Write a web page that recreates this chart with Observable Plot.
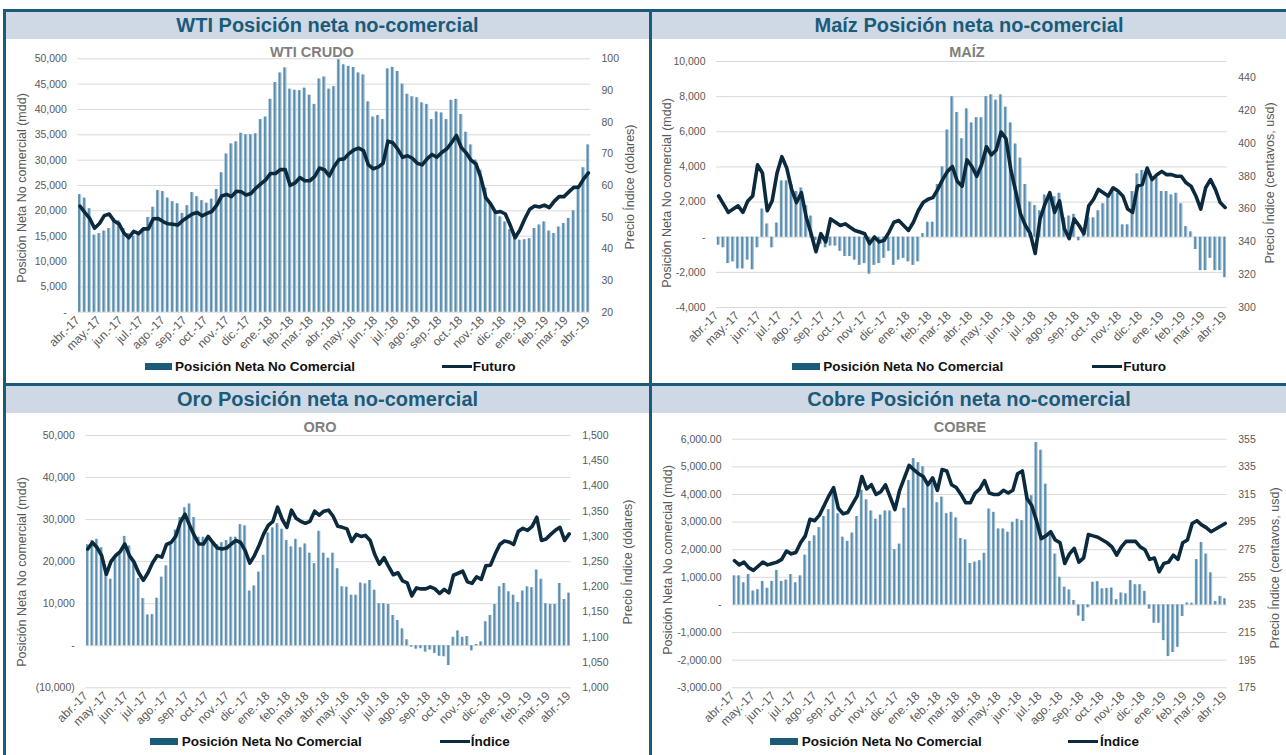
<!DOCTYPE html>
<html>
<head>
<meta charset="utf-8">
<script src="https://cdn.jsdelivr.net/npm/d3@7"></script>
<script src="https://cdn.jsdelivr.net/npm/@observablehq/plot@0.6"></script>
<style>
  html, body { margin: 0; padding: 0; background: #fff; }
  body { width: 1286px; height: 755px; position: relative; overflow: hidden; font-family: "Liberation Sans", Arial, sans-serif; }
  .line { position: absolute; background: #1b5b7a; }
  .tbar { position: absolute; background: #cfd9e5; display: flex; align-items: center; justify-content: center;
          color: #1b5b7a; font-weight: bold; font-size: 20px; white-space: nowrap; }
  .sub { position: absolute; transform: translateX(-50%); font-size: 14.5px; line-height: 14px; font-weight: bold; color: #7f7f7f; white-space: nowrap; }
  .atitle { position: absolute; transform: translate(-50%, -50%) rotate(-90deg); font-size: 12.5px; color: #595959; white-space: nowrap; }
  .leg { position: absolute; transform: translateY(-50%); font-size: 13.5px; line-height: 14px; font-weight: bold; color: #111; white-space: nowrap; }
  .sw { position: absolute; }
  svg { position: absolute; }
</style>
</head>
<body>
<script>
// ---------- DATA (weekly, starting Tue 4-Apr-2017) ----------
const firstWeek = "2017-04-04";
const monthNames = ["ene", "feb", "mar", "abr", "may", "jun", "jul", "ago", "sep", "oct", "nov", "dic"];

// WTI: net non-commercial position (mdd) and futures price (USD)
const wtiPos = [23200, 22500, 20400, 15200, 15500, 16000, 16500, 18500, 18000, 16500, 15500, 15000, 15300,
  16500, 18700, 20700, 24000, 23800, 22500, 21800, 21400, 19500, 21000, 23600, 22800, 22000,
  21500, 22300, 24200, 27500, 31200, 33200, 33600, 35300, 35000, 35000, 35200, 38000, 38500,
  42000, 45300, 47200, 48200, 44000, 43800, 43700, 44200, 42800, 41000, 46000, 46400, 44000,
  44500, 49800, 48800, 48500, 48300, 47200, 46800, 41500, 38500, 38800, 38000, 48000, 48300,
  47500, 45000, 43000, 42500, 42300, 41300, 41000, 38000, 39500, 39300, 38000, 41800, 42000,
  39000, 35500, 33000, 30000, 28000, 24500, 21500, 20000, 18800, 17800, 16300, 14500, 14200,
  14300, 14500, 16500, 17200, 17800, 16000, 15500, 16800, 17500, 18500, 20000, 25000, 28500, 33000];
const wtiFut = [53.5, 51.5, 49.6, 46.5, 48.0, 50.5, 51.0, 48.8, 47.9, 45.0, 43.5, 45.5, 44.8,
  46.3, 46.3, 49.5, 49.6, 48.6, 47.9, 47.8, 47.5, 48.9, 50.0, 51.0, 51.5, 50.4,
  51.2, 51.8, 53.8, 56.7, 57.2, 56.5, 58.2, 58.0, 57.0, 57.5, 59.2, 60.5, 61.8,
  63.8, 63.8, 65.0, 65.0, 60.0, 60.8, 62.5, 61.5, 61.5, 62.8, 65.5, 65.0, 63.0,
  66.0, 68.2, 68.4, 70.0, 71.2, 71.8, 71.0, 66.5, 65.3, 65.8, 67.0, 74.0, 73.5,
  71.5, 68.9, 69.4, 68.6, 67.0, 66.5, 68.4, 69.8, 68.9, 70.4, 71.5, 73.5, 75.8,
  72.0, 70.3, 68.0, 66.8, 62.5, 56.2, 54.2, 51.5, 51.8, 51.0, 47.5, 43.5, 46.0,
  49.5, 52.5, 53.5, 53.2, 53.8, 53.0, 55.0, 56.5, 56.5, 58.0, 59.4, 59.5, 62.0, 64.0];

// Maíz
const maizPos = [-450, -600, -1500, -1400, -1800, -1800, -1300, -1850, -600, 1600, 750, -600, 800,
  3200, 3200, 3000, 2600, 2800, 1800, 1200, -200, -400, -600, -500, -500, -800,
  -1100, -1100, -1300, -1600, -1500, -2100, -1600, -1500, -1200, -800, -1600, -1300, -1200,
  -1400, -1600, -1400, 200, 850, 850, 3000, 4000, 6100, 8000, 7100, 5600, 7300,
  6500, 6800, 6800, 8000, 8100, 7800, 8100, 7400, 6500, 5300, 4500, 3000, 2000,
  1800, 1500, 2400, 2200, 2300, 2500, 1100, 1200, 1300, -200, 200, 1100, 1100,
  1500, 1900, 2300, 2600, 2500, 700, 700, 2600, 3600, 3800, 3600, 3400, 3400,
  2600, 2600, 2400, 2500, 1900, 600, 300, -700, -1900, -1900, -1200, -1900, -1900, -2300];
const maizFut = [368, 363, 358, 360, 362, 358, 365, 368, 387, 382, 359, 365, 382,
  392, 385, 372, 364, 370, 355, 345, 334, 345, 340, 354, 352, 350,
  351, 349, 347, 346, 345, 339, 343, 340, 341, 346, 352, 353, 350,
  347, 352, 359, 364, 366, 367, 372, 378, 383, 386, 377, 374, 390,
  386, 380, 387, 398, 393, 396, 407, 403, 384, 371, 357, 350, 345,
  333, 354, 363, 370, 358, 365, 348, 342, 354, 350, 345, 362, 366,
  372, 370, 368, 373, 371, 368, 360, 358, 374, 375, 385, 378, 381,
  383, 381, 381, 380, 380, 376, 374, 368, 360, 373, 378, 372, 364, 361];

// Oro
const oroPos = [24000, 25000, 25300, 23300, 17500, 15800, 21000, 22000, 26000, 23700, 20000, 16000, 11200,
  7300, 7400, 11300, 16300, 19000, 24500, 27500, 30500, 32800, 33700, 30500, 25800, 25800,
  25500, 24500, 24000, 24500, 25000, 25800, 25800, 28800, 28500, 13000, 14200, 17500, 21500,
  26800, 28000, 29000, 27700, 25000, 23500, 25300, 23300, 24200, 22000, 19500, 27200, 22000,
  20800, 22000, 18300, 14000, 13900, 12000, 12000, 14900, 14700, 15500, 13200, 10000, 10000,
  9800, 7200, 6000, 4000, 1400, -300, -800, -700, -1500, -1000, -1800, -2500, -2600,
  -4700, 2000, 3500, 2000, 2200, -1200, 300, 900, 5700, 7200, 9800, 14000, 14800,
  12800, 12000, 10300, 13000, 14000, 13800, 18000, 15800, 10000, 9800, 9800, 14800, 11000, 12500];
const oroInd = [1275, 1288, 1278, 1262, 1225, 1250, 1262, 1270, 1285, 1262, 1249, 1228, 1213,
  1228, 1248, 1262, 1259, 1284, 1288, 1300, 1328, 1344, 1322, 1302, 1285, 1285,
  1300, 1288, 1277, 1275, 1277, 1285, 1292, 1288, 1272, 1247, 1262, 1282, 1305,
  1322, 1330, 1358, 1334, 1318, 1352, 1336, 1330, 1326, 1330, 1350, 1342, 1350,
  1352, 1340, 1320, 1318, 1315, 1290, 1304, 1300, 1302, 1292, 1264, 1245, 1258,
  1240, 1224, 1228, 1212, 1208, 1182, 1198, 1196, 1196, 1200, 1196, 1187, 1195,
  1188, 1223, 1227, 1231, 1210, 1207, 1220, 1215, 1242, 1243, 1265, 1284, 1291,
  1289, 1284, 1310, 1316, 1312, 1320, 1338, 1292, 1295, 1304, 1312, 1318, 1292, 1305];

// Cobre
const cobrePos = [1050, 1050, 800, 1100, 500, 550, 850, 600, 850, 1250, 850, 900, 1100,
  800, 1050, 1800, 2300, 2500, 2800, 3200, 3450, 4100, 3300, 2450, 2300, 2600,
  3200, 4150, 3800, 3400, 3100, 3250, 3400, 3400, 2000, 2200, 3500, 4500, 5300,
  5150, 5000, 4300, 4400, 3700, 3900, 3300, 3350, 3150, 2400, 2350, 1500, 1550,
  1600, 1870, 3470, 3350, 2750, 2750, 2630, 2990, 3100, 3050, 4010, 3950, 5880,
  5600, 4370, 2630, 1840, 1000, 640, 540, 160, -400, -600, -100, 820, 840,
  580, 600, 610, 190, 430, 400, 880, 730, 730, 490, -150, -660, -660,
  -1290, -1870, -1720, -1530, -420, 70, 60, 1640, 2260, 1840, 1160, 120, 310, 220];
const cobreInd = [267, 264, 266, 262, 260, 263, 266, 264, 265, 266, 268, 274, 272,
  273, 280, 285, 297, 296, 300, 307, 314, 320, 305, 301, 302, 308,
  314, 328, 319, 322, 315, 317, 322, 313, 304, 318, 327, 336, 333,
  330, 328, 322, 327, 318, 333, 332, 322, 320, 315, 309, 309, 316,
  319, 325, 316, 315, 315, 318, 316, 318, 330, 332, 312, 307, 296,
  283, 285, 288, 282, 280, 265, 272, 276, 266, 269, 286, 285, 284,
  282, 280, 277, 271, 277, 281, 281, 281, 277, 275, 268, 269, 259,
  265, 266, 271, 268, 280, 282, 294, 296, 293, 291, 288, 290, 292, 294];

// axis tick values
const wtiLeftTicks = [0, 5000, 10000, 15000, 20000, 25000, 30000, 35000, 40000, 45000, 50000];
const wtiRightTicks = [20, 30, 40, 50, 60, 70, 80, 90, 100];
const maizLeftTicks = [-4000, -2000, 0, 2000, 4000, 6000, 8000, 10000];
const maizRightTicks = [300, 320, 340, 360, 380, 400, 420, 440];
const oroLeftTicks = [-10000, 0, 10000, 20000, 30000, 40000, 50000];
const oroRightTicks = [1000, 1050, 1100, 1150, 1200, 1250, 1300, 1350, 1400, 1450, 1500];
const cobreLeftTicks = [-3000, -2000, -1000, 0, 1000, 2000, 3000, 4000, 5000, 6000];
const cobreRightTicks = [175, 195, 215, 235, 255, 275, 295, 315, 335, 355];

// ---------- LAYOUT ----------
const FONT = '"Liberation Sans", Arial, sans-serif';
const start = new Date(firstWeek + "T00:00:00Z");
const weeks = wtiPos.map((_, i) => d3.utcDay.offset(start, 7 * i));
const xDomain = [new Date("2017-04-01T00:00:00Z"), new Date("2019-04-05T00:00:00Z")];
const monthTicks = d3.utcMonth.range(new Date("2017-04-01T00:00:00Z"), new Date("2019-04-02T00:00:00Z"));
const monthFmt = d => monthNames[d.getUTCMonth()] + ".-" + String(d.getUTCFullYear()).slice(2);

const comma = d3.format(",");
const comma2 = d3.format(",.2f");

function el(cls, css, text) {
  const e = document.createElement("div");
  e.className = cls;
  Object.assign(e.style, css);
  if (text != null) e.textContent = text;
  document.body.appendChild(e);
  return e;
}

// frame lines
el("line", {left: "3px", top: "9px", width: "1283px", height: "3px"});
el("line", {left: "3px", top: "383px", width: "1283px", height: "3px"});
el("line", {left: "3px", top: "9px", width: "3px", height: "746px"});
el("line", {left: "649px", top: "9px", width: "3px", height: "746px"});

const panels = [
  {title: "WTI Posición neta no-comercial", sub: "WTI CRUDO", subX: 312, subTop: 44.7,
   bar: [6, 12, 643, 26.7], svg: [6, 40, 643, 322], box: [77.3, 590, 58.3, 311.7],
   pos: wtiPos, line: wtiFut, ld: [0, 50000], rd: [20, 100], lticks: wtiLeftTicks, rticks: wtiRightTicks,
   lfmt: d => d === 0 ? "-" : comma(d), rfmt: d => comma(d),
   ltitle: "Posición Neta No comercial (mdd)", rtitle: "Precio Índice (dólares)",
   lt: [21.7, 188], rt: [630, 187],
   legY: 366.7, sw: [145, 27], legText1: 175, lsw: [441.7, 30], legText2: 472.7, lineName: "Futuro"},
  {title: "Maíz Posición neta no-comercial", sub: "MAÍZ", subX: 967, subTop: 44.7,
   bar: [652, 12, 634, 26.7], svg: [652, 40, 634, 322], box: [716, 1226.7, 61, 307],
   pos: maizPos, line: maizFut, ld: [-4000, 10000], rd: [300, 450], lticks: maizLeftTicks, rticks: maizRightTicks,
   lfmt: d => d === 0 ? "-" : (d < 0 ? "-" + comma(-d) : comma(d)), rfmt: d => comma(d),
   ltitle: "Posición Neta No comercial (mdd)", rtitle: "Precio Índice (centavos, usd)",
   lt: [666.7, 193], rt: [1270, 183],
   legY: 366.7, sw: [791.7, 28], legText1: 823.3, lsw: [1091.7, 30], legText2: 1123.3, lineName: "Futuro"},
  {title: "Oro Posición neta no-comercial", sub: "ORO", subX: 320, subTop: 419.7,
   bar: [6, 386, 643, 27], svg: [6, 414, 643, 320], box: [85.3, 570.7, 435, 687.3],
   pos: oroPos, line: oroInd, ld: [-10000, 50000], rd: [1000, 1500], lticks: oroLeftTicks, rticks: oroRightTicks,
   lfmt: d => d === 0 ? "-" : (d < 0 ? "(" + comma(-d) + ")" : comma(d)), rfmt: d => comma(d),
   ltitle: "Posición Neta No comercial (mdd)", rtitle: "Precio Índice (dólares)",
   lt: [21.7, 572], rt: [628, 562],
   legY: 741.7, sw: [150, 28], legText1: 181.7, lsw: [440, 30], legText2: 470.7, lineName: "Índice"},
  {title: "Cobre Posición neta no-comercial", sub: "COBRE", subX: 960, subTop: 419.7,
   bar: [652, 386, 634, 27], svg: [652, 414, 634, 320], box: [732, 1226.7, 438.7, 687.3],
   pos: cobrePos, line: cobreInd, ld: [-3000, 6000], rd: [175, 355], lticks: cobreLeftTicks, rticks: cobreRightTicks,
   lfmt: d => d === 0 ? "-" : (d < 0 ? "-" + comma2(-d) : comma2(d)), rfmt: d => comma(d),
   ltitle: "Posición Neta No comercial (mdd)", rtitle: "Precio Índice (centavos, usd)",
   lt: [668, 560], rt: [1275, 568],
   legY: 741.7, sw: [770, 28], legText1: 801.7, lsw: [1068.3, 30], legText2: 1100, lineName: "Índice"}
];

for (const p of panels) {
  el("tbar", {left: p.bar[0] + "px", top: p.bar[1] + "px", width: p.bar[2] + "px", height: p.bar[3] + "px"}, p.title);
  el("sub", {left: p.subX + "px", top: p.subTop + "px"}, p.sub);
  el("atitle", {left: p.lt[0] + "px", top: p.lt[1] + "px"}, p.ltitle);
  el("atitle", {left: p.rt[0] + "px", top: p.rt[1] + "px"}, p.rtitle);
  // legend
  el("sw", {left: p.sw[0] + "px", top: (p.legY - 3.5) + "px", width: p.sw[1] + "px", height: "7px", background: "#1b5b7a"});
  el("leg", {left: p.legText1 + "px", top: p.legY + "px"}, "Posición Neta No Comercial");
  el("sw", {left: p.lsw[0] + "px", top: (p.legY - 1.5) + "px", width: p.lsw[1] + "px", height: "3px", background: "#0b2a3d"});
  el("leg", {left: p.legText2 + "px", top: p.legY + "px"}, p.lineName);

  const [sx, sy, W, H] = p.svg;
  const [x0, x1, y0, y1] = p.box;
  const toL = r => p.ld[0] + (r - p.rd[0]) / (p.rd[1] - p.rd[0]) * (p.ld[1] - p.ld[0]);
  const toR = l => p.rd[0] + (l - p.ld[0]) / (p.ld[1] - p.ld[0]) * (p.rd[1] - p.rd[0]);
  const clampD = t => new Date(Math.min(+xDomain[1], Math.max(+xDomain[0], +t)));
  const rows = weeks.map((d, i) => ({
    d,
    a: clampD(d3.utcHour.offset(d, -84)),
    b: clampD(d3.utcHour.offset(d, 84)),
    c: clampD(d3.utcHour.offset(d, -40)),
    e: clampD(d3.utcHour.offset(d, 20)),
    v: p.pos[i],
    r: toL(p.line[i])
  }));

  const chart = Plot.plot({
    width: W, height: H,
    marginLeft: x0 - sx, marginRight: sx + W - x1, marginTop: y0 - sy, marginBottom: sy + H - y1,
    style: {fontFamily: FONT, fontSize: "10.5px", color: "#595959", background: "transparent", overflow: "visible"},
    x: {type: "utc", domain: xDomain},
    y: {domain: p.ld},
    marks: [
      Plot.gridY(p.lticks, {stroke: "#d9d9d9", strokeOpacity: 1, strokeWidth: 1}),
      Plot.rect(rows, {x1: "a", x2: "b", y1: 0, y2: "v", fill: "#aac6d8", insetLeft: 0.7, insetRight: 0.7}),
      Plot.rect(rows, {x1: "c", x2: "e", y1: 0, y2: "v", fill: "#5a8cae"}),
      Plot.line(rows, {x: "d", y: "r", stroke: "#0b2a3d", strokeWidth: 3.6, strokeLinejoin: "round"}),
      Plot.axisY(p.lticks, {anchor: "left", tickSize: 0, tickPadding: 11, tickFormat: p.lfmt, label: null, fill: "#595959"}),
      Plot.axisY(p.rticks.map(toL), {anchor: "right", tickSize: 0, tickPadding: 11, label: null, fill: "#595959",
        tickFormat: d => p.rfmt(Math.round(toR(d)))}),
      Plot.axisX(monthTicks, {anchor: "bottom", tickSize: 0, tickPadding: 6, tickRotate: -45, tickFormat: monthFmt,
        label: null, fill: "#595959", fontSize: 12})
    ]
  });
  chart.style.left = sx + "px";
  chart.style.top = sy + "px";
  document.body.appendChild(chart);
}
</script>
</body>
</html>
